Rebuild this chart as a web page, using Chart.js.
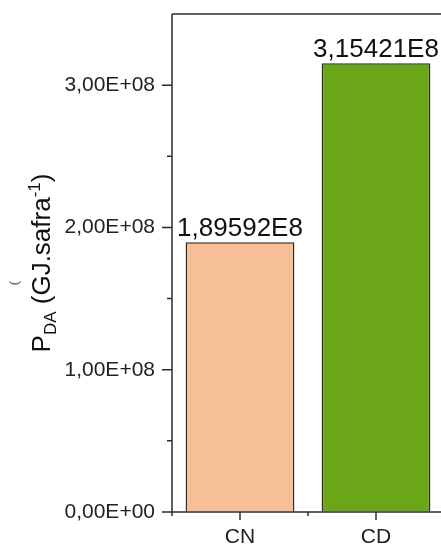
<!DOCTYPE html>
<html>
<head>
<meta charset="utf-8">
<script src="https://cdn.jsdelivr.net/npm/chart.js@4.4.1/dist/chart.umd.min.js"></script>
<style>
    html, body { margin: 0; padding: 0; background: #fff; overflow: hidden; }
    #wrap { width: 441px; height: 545px; overflow: hidden; }
</style>
</head>
<body>
<div id="wrap"><canvas id="chart" width="450" height="545"></canvas></div>
<script>
var categories = ['CN', 'CD'];
var values = [1.89592e8, 3.15421e8];
var barColors = ['#F7BF96', '#6AA618'];
var yMin = 0;
var yMax = 3.5e8;
var yStep = 0.5e8;
var yLabelStep = 1e8;
// title pieces: [text, kind]
var yTitleParts = [['P', 'normal'], ['DA', 'sub'], [' (GJ.safra', 'normal'], ['-1', 'sup'], [')', 'normal']];

var FONT = "'Liberation Sans', Arial, sans-serif";
var INK = '#2b2b2b';

function isMajor(v) {
    var r = v / yLabelStep;
    return Math.abs(r - Math.round(r)) < 1e-6;
}

// 3e8 -> "3,00E+08"
function sciLabel(v) {
    if (v === 0) return '0,00E+00';
    var e = Math.floor(Math.log10(Math.abs(v)) + 1e-9);
    var m = v / Math.pow(10, e);
    return m.toFixed(2).replace('.', ',') + 'E+' + (e < 10 ? '0' : '') + e;
}

// 1.89592e8 -> "1,89592E8"
function barLabel(v) {
    var e = Math.floor(Math.log10(v) + 1e-9);
    return (v / Math.pow(10, e)).toFixed(5).replace('.', ',') + 'E' + e;
}

var framePlugin = {
    id: 'frame',
    afterDraw: function(chart) {
        var ctx = chart.ctx,
            area = chart.chartArea,
            xs = chart.scales.x,
            ys = chart.scales.y;

        ctx.save();
        ctx.strokeStyle = INK;
        ctx.lineWidth = 1.5;

        // left axis, top frame, bottom axis
        ctx.beginPath();
        ctx.moveTo(area.left, area.top);
        ctx.lineTo(area.left, area.bottom);
        ctx.stroke();
        ctx.beginPath();
        ctx.moveTo(area.left, area.top);
        ctx.lineTo(area.right, area.top);
        ctx.stroke();
        ctx.beginPath();
        ctx.moveTo(area.left, area.bottom);
        ctx.lineTo(area.right, area.bottom);
        ctx.stroke();

        // y ticks, major + minor, pointing out
        ctx.beginPath();
        ys.ticks.forEach(function(t) {
            if (t.value >= yMax) return;
            var py = ys.getPixelForValue(t.value);
            var len = isMajor(t.value) ? 10 : 5;
            ctx.moveTo(area.left - len, py);
            ctx.lineTo(area.left, py);
        });

        // x ticks: centers long, boundaries short
        categories.forEach(function(c, i) {
            var px = xs.getPixelForValue(i);
            ctx.moveTo(px, area.bottom);
            ctx.lineTo(px, area.bottom + 8);
        });
        for (var k = 0; k < categories.length; k++) {
            var bx = xs.getPixelForValue(k - 0.5);
            ctx.moveTo(bx, area.bottom);
            ctx.lineTo(bx, area.bottom + 4);
        }
        ctx.stroke();

        // value labels over bars
        ctx.fillStyle = '#111';
        ctx.font = '26px ' + FONT;
        ctx.textAlign = 'center';
        ctx.textBaseline = 'alphabetic';
        chart.getDatasetMeta(0).data.forEach(function(bar, i) {
            ctx.fillText(barLabel(values[i]), bar.x, bar.y - 6);
        });

        // y title with sub / superscript, rotated
        var big = 26, small = 17;
        var width = 0;
        yTitleParts.forEach(function(p) {
            ctx.font = (p[1] === 'normal' ? big : small) + 'px ' + FONT;
            width += ctx.measureText(p[0]).width;
        });
        var cy = (area.top + area.bottom) / 2;
        ctx.translate(50, cy);
        ctx.rotate(-Math.PI / 2);
        ctx.textAlign = 'left';
        var x = -width / 2;
        yTitleParts.forEach(function(p) {
            ctx.font = (p[1] === 'normal' ? big : small) + 'px ' + FONT;
            var dy = p[1] === 'sub' ? 6 : (p[1] === 'sup' ? -10 : 0);
            ctx.fillText(p[0], x, dy);
            x += ctx.measureText(p[0]).width;
        });
        ctx.restore();

        // stray mark left of the title
        ctx.save();
        ctx.fillStyle = '#555';
        ctx.font = '13px ' + FONT;
        ctx.translate(18, cy + 20);
        ctx.rotate(-Math.PI / 2);
        ctx.textAlign = 'center';
        ctx.fillText('(', 0, 0);
        ctx.restore();
    }
};

new Chart(document.getElementById('chart').getContext('2d'), {
    type: 'bar',
    data: {
        labels: categories,
        datasets: [{
            data: values,
            backgroundColor: barColors,
            borderColor: INK,
            borderWidth: 1.5,
            barPercentage: 0.8,
            categoryPercentage: 1.0
        }]
    },
    options: {
        responsive: false,
        animation: false,
        devicePixelRatio: 1,
        layout: { padding: { left: 0, top: 14, right: 6, bottom: 0 } },
        plugins: {
            legend: { display: false },
            tooltip: { enabled: false }
        },
        scales: {
            x: {
                offset: true,
                grid: { display: true, drawOnChartArea: false, tickLength: 8, tickColor: 'transparent' },
                border: { display: false },
                ticks: { color: '#222', font: { family: FONT, size: 21 }, padding: 5 },
                afterFit: function(s) { s.height = 33; }
            },
            y: {
                min: yMin,
                max: yMax,
                grid: { display: true, drawOnChartArea: false, tickLength: 10, tickColor: 'transparent' },
                border: { display: false },
                ticks: {
                    stepSize: yStep,
                    autoSkip: false,
                    color: '#222',
                    padding: 7,
                    font: { family: FONT, size: 21 },
                    callback: function(v) { return isMajor(v) ? sciLabel(v) : ''; }
                },
                afterFit: function(s) { s.width = 172; s.paddingTop = 0; s.paddingBottom = 0; }
            }
        }
    },
    plugins: [framePlugin]
});
</script>
</body>
</html>
